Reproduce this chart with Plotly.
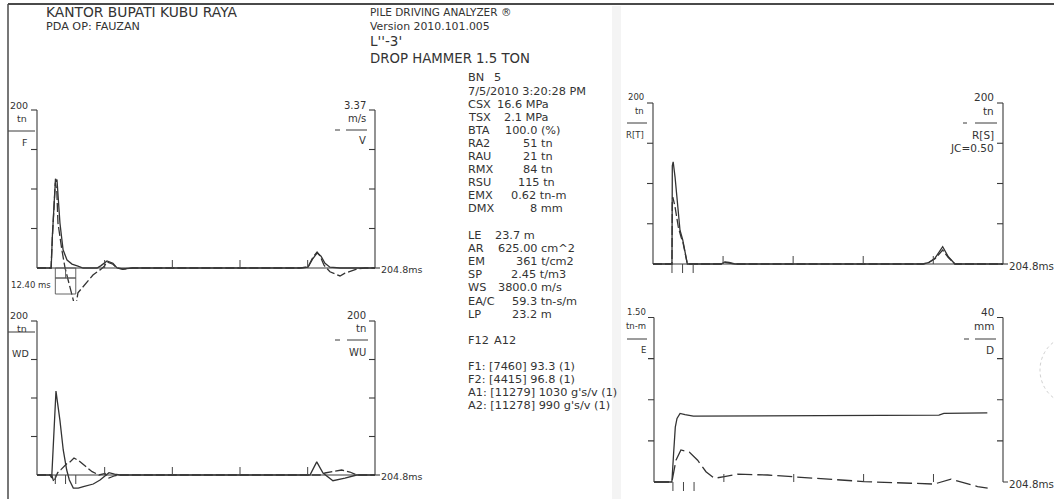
import plotly.graph_objects as go

W, H = 1054, 499

# ---------------- data ----------------
TIME_MAX = 204.8                      # ms, record length
GRID_T = [41.0, 82.0, 123.0, 164.0]   # ms, baseline grid marks
IMPACT_T = [11.1, 17.3, 23.5]         # ms, impact / L/c / 2L/c marks

# Panel 1 : force F (tn) and velocity V (m/s)
F_t = [0, 8.6, 9.3, 10.5, 11.2, 11.6, 12.1, 13.9, 15.8, 18.2, 21.2, 24.8, 27.9, 36.4, 38.8,
       42.4, 46.0, 48.5, 52.0, 58.0, 159.4, 164.2, 167.2, 169.7, 172.1, 174.5, 177.5, 183.6, 204.8]
F_v = [0, 0, 40, 95, 113, 109, 112, 57, 23, 10, 5, 2.5, 0, 0, 3,
       9, 6, 0, -1, 0, 0, 1, 12, 19, 15, 6, 1, 0, 0]
V_t = [0, 8.5, 9.3, 10.5, 11.1, 12.0, 12.7, 15.1, 17.0, 21.8, 23.3, 24.8, 29.1, 33.9, 38.2,
       40.6, 42.4, 46.0, 48.5, 52.0, 58.0, 159.4, 164.2, 167.2, 169.7, 171.5, 173.9, 177.5,
       183.6, 186.6, 193.9, 198.7, 204.8]
V_v = [0, 0, 0.64, 1.55, 1.82, 1.65, 0.96, 0.38, 0, -0.66, -0.88, -0.53, -0.34, -0.15, -0.04,
       0.03, 0.13, 0.08, 0, -0.03, 0, 0, 0.02, 0.23, 0.34, 0.26, 0.06, -0.08,
       -0.17, -0.11, -0.02, 0, 0]

# Panel 2 : wave down WD and wave up WU (tn)
WD_t = [0, 7.9, 8.9, 10.3, 11.5, 13.9, 15.9, 18.0, 19.6, 22.0, 25.0, 28.1, 34.1, 38.2, 41.2,
        43.6, 47.0, 50.3, 165.4, 169.5, 173.3, 179.3, 186.6, 193.7, 204.8]
WD_v = [0, 0, -3.9, 55, 109, 71, 32.5, 6.5, -6.5, -17, -17, -15, -11.7, -6.5, -1.3,
        3, 1, 0, 0, 17, 2.6, -7.4, -4, 0, 0]
WU_t = [0, 8.9, 10.2, 11.6, 12.5, 14.5, 16.4, 18.2, 20.0, 22.4, 25.5, 28.5, 33.4, 37.6, 41.2,
        43.6, 47.0, 50.0, 171.5, 174.5, 184.6, 189.6, 193.7, 204.8]
WU_v = [0, 0, -9, -3, 3, 7, 11.7, 15, 17, 22, 18.2, 13, 4.3, 0, 2,
        -4, -1, 0, 0, 2.6, 6.5, 3.9, 0, 0]

# Panel 3 : total resistance R[T] and static resistance R[S] (tn)
RT_t = [0, 11.1, 11.3, 11.8, 12.9, 13.9, 14.8, 15.8, 17.4, 20.1, 39.8, 42.1, 44.5, 47.9,
        158.0, 161.1, 165.0, 169.5, 172.8, 176.7, 204.8]
RT_v = [0, 0, 122, 127, 108, 84, 63, 42, 30, 0, 0, 2.5, 2, 0,
        0, 1.6, 7.2, 21.5, 9, 0, 0]
RS_t = [0, 11.1, 11.3, 11.6, 12.9, 14.8, 16.5, 17.4, 20.1, 39.8, 42.1, 44.5, 47.9,
        158.0, 161.1, 165.0, 169.5, 172.8, 176.7, 204.8]
RS_v = [0, 0, 80, 83, 71, 46, 33, 28, 0, 0, 2, 1.5, 0,
        0, 1.5, 6.5, 17.4, 8, 0, 0]

# Panel 4 : energy E (tn-m) and displacement D (mm)
E_t = [0, 10.5, 11.5, 12.5, 13.5, 15.3, 18.2, 23.1, 167.2, 170.1, 195.6]
E_v = [0, 0, 0.26, 0.50, 0.58, 0.625, 0.615, 0.60, 0.61, 0.625, 0.63]
D_t = [0, 10.5, 12.9, 15.8, 20.7, 25.6, 30.5, 35.4, 41.3, 49.1, 66.7, 82.3, 111.6, 123.3,
       150.8, 164.4, 174.3, 180.1, 189.9, 195.8]
D_v = [0, 0, 5.3, 7.8, 7.3, 5.3, 2.5, 0.9, 1.3, 1.9, 1.7, 1.3, 0.5, 0.1,
       -0.3, -0.5, 0.7, 0.1, -1.1, -1.5]

# scales (full-scale values of each axis)
P_SCALES = [(200, 3.37), (200, 200), (200, 200), (1.50, 40)]

# summary table
TABLE1 = [("BN", "5"), ("CSX", "16.6 MPa"), ("TSX", "2.1 MPa"), ("BTA", "100.0 (%)"),
          ("RA2", "51 tn"), ("RAU", "21 tn"), ("RMX", "84 tn"), ("RSU", "115 tn"),
          ("EMX", "0.62 tn-m"), ("DMX", "8 mm")]
DATE_TXT = "7/5/2010 3:20:28 PM"
TABLE2 = [("LE", "23.7 m"), ("AR", "625.00 cm^2"), ("EM", "361 t/cm2"), ("SP", "2.45 t/m3"),
          ("WS", "3800.0 m/s"), ("EA/C", "59.3 tn-s/m"), ("LP", "23.2 m")]
SENSORS = ["F1: [7460] 93.3 (1)", "F2: [4415] 96.8 (1)",
           "A1: [11279] 1030 g's/v (1)", "A2: [11278] 990 g's/v (1)"]

# ---------------- layout helpers ----------------
INK = "#333333"
FONT = "DejaVu Sans"

# panel pixel geometry: x_left, x_right, y_top(full scale), y_base(zero), y_bottom(clip)
GEOM = [(37, 375, 110, 268, 301),
        (37, 375, 321, 475, 495),
        (653, 1003, 103, 264, 282),
        (654, 1003, 317.5, 482, 495)]
PAD = 14

fig = go.Figure()
layout = dict(width=W, height=H, margin=dict(l=0, r=0, t=0, b=0),
              paper_bgcolor="white", plot_bgcolor="rgba(0,0,0,0)", showlegend=False)
shapes = []
anns = []


def px(x):
    return x / W


def py(y):
    return 1 - y / H


for i, (x0, x1, yt, yb, ybot) in enumerate(GEOM):
    n = i + 1
    kx = TIME_MAX / (x1 - x0)
    lmax, rmax = P_SCALES[i]
    kyl = lmax / (yb - yt)
    kyr = rmax / (yb - yt)
    xd = [px(x0 - PAD), px(x1 + PAD)]
    yd = [py(ybot), py(yt - 6)]
    xs = "" if n == 1 else str(n)
    layout["xaxis" + xs] = dict(domain=xd, range=[-PAD * kx, TIME_MAX + PAD * kx],
                                visible=False, anchor="y" + xs, fixedrange=True)
    layout["yaxis" + xs] = dict(domain=yd, range=[-(ybot - yb) * kyl, lmax + 6 * kyl],
                                visible=False, anchor="x" + xs, fixedrange=True)
    layout["yaxis" + str(n + 4)] = dict(range=[-(ybot - yb) * kyr, rmax + 6 * kyr],
                                        visible=False, overlaying="y" + xs, anchor="x" + xs,
                                        fixedrange=True)

# traces
series = [
    (F_t, F_v, 1, False, None), (V_t, V_v, 1, True, "9px,3px"),
    (WD_t, WD_v, 2, False, None), (WU_t, WU_v, 2, True, "9px,3px"),
    (RT_t, RT_v, 3, False, None), (RS_t, RS_v, 3, True, "9px,3px"),
    (E_t, E_v, 4, False, None), (D_t, D_v, 4, True, "15px,5px"),
]
for t, v, n, right, dash in series:
    xs = "" if n == 1 else str(n)
    ya = "y" + (str(n + 4) if right else xs)
    fig.add_trace(go.Scatter(x=t, y=v, xaxis="x" + xs, yaxis=ya, mode="lines",
                             line=dict(color=INK, width=1.3, dash=dash),
                             hoverinfo="skip"))

# axes frames & ticks (data referenced)
for i, (x0, x1, yt, yb, ybot) in enumerate(GEOM):
    n = i + 1
    xs = "" if n == 1 else str(n)
    xa, ya = "x" + xs, "y" + xs
    lmax = P_SCALES[i][0]
    ln = dict(color="#3a3a3a", width=1.1)
    shapes.append(dict(type="line", xref=xa, yref=ya, x0=0, x1=0, y0=0, y1=lmax, line=ln))
    shapes.append(dict(type="line", xref=xa, yref=ya, x0=TIME_MAX, x1=TIME_MAX, y0=0, y1=lmax,
                       line=ln))
    if n != 4:
        shapes.append(dict(type="line", xref=xa, yref=ya, x0=0, x1=TIME_MAX, y0=0, y1=0, line=ln))
    for k in range(1, 5):
        v = lmax * k / 4
        shapes.append(dict(type="line", xref=xa, yref=ya, xsizemode="pixel", xanchor=0,
                           x0=-6, x1=0, y0=v, y1=v, line=ln))
        shapes.append(dict(type="line", xref=xa, yref=ya, xsizemode="pixel", xanchor=TIME_MAX,
                           x0=-6, x1=0, y0=v, y1=v, line=ln))
    shapes.append(dict(type="line", xref=xa, yref=ya, xsizemode="pixel", xanchor=TIME_MAX,
                       x0=0, x1=5, y0=0, y1=0, line=ln))
    for t in GRID_T:
        shapes.append(dict(type="line", xref=xa, yref=ya, ysizemode="pixel", yanchor=0,
                           x0=t, x1=t, y0=0, y1=8, line=dict(color="#444", width=1)))
    if n != 1:
        for t in IMPACT_T:
            shapes.append(dict(type="line", xref=xa, yref=ya, ysizemode="pixel", yanchor=0,
                               x0=t, x1=t, y0=0, y1=-9, line=dict(color="#444", width=1)))
    # 204.8ms label
    fs = 9.5 if n <= 2 else 10.3
    anns.append(dict(text="204.8ms", xref=xa, yref=ya, x=TIME_MAX, y=0, xanchor="left",
                     yanchor="top", xshift=4, yshift=6, showarrow=False,
                     font=dict(size=fs, color=INK, family=FONT)))

# 12.40 ms window box on panel 1
shapes.append(dict(type="rect", xref="x", yref="y", x0=IMPACT_T[0], x1=IMPACT_T[2],
                   ysizemode="pixel", yanchor=0, y0=0, y1=-10,
                   line=dict(color="#555", width=0.9)))
shapes.append(dict(type="line", xref="x", yref="y", x0=IMPACT_T[1], x1=IMPACT_T[1],
                   ysizemode="pixel", yanchor=0, y0=0, y1=-10, line=dict(color="#555", width=0.9)))
shapes.append(dict(type="rect", xref="x", yref="y", x0=IMPACT_T[0], x1=IMPACT_T[2],
                   ysizemode="pixel", yanchor=0, y0=-10, y1=-26,
                   line=dict(color="#555", width=0.9)))
anns.append(dict(text="%.2f ms" % (IMPACT_T[2] - IMPACT_T[0]), xref="x", yref="y",
                 x=IMPACT_T[0], y=0, xanchor="right", yanchor="middle", xshift=-2, yshift=-17,
                 showarrow=False, font=dict(size=8.5, color=INK, family=FONT)))


def txt(s, x, y, size, anchor="left", color=INK):
    anns.append(dict(text=s, xref="paper", yref="paper", x=px(x), y=py(y), xanchor=anchor,
                     yanchor="middle", showarrow=False,
                     font=dict(size=size, color=color, family=FONT)))


def hline(x0, x1, y, w=1):
    shapes.append(dict(type="line", xref="paper", yref="paper", x0=px(x0), x1=px(x1),
                       y0=py(y), y1=py(y), line=dict(color="#3a3a3a", width=w)))


# panel side labels
# panel 1
txt("200", 30, 105, 9.5, "right"); txt("tn", 29, 118, 9.5, "right"); hline(8, 35, 131)
txt("F", 29, 142, 9.5, "right")
txt("3.37", 368, 105, 10, "right"); txt("m/s", 368, 118, 10, "right")
hline(335, 340, 130); hline(346, 367, 130); txt("V", 368, 141, 10, "right")
# panel 2
txt("200", 30, 315, 9.5, "right"); txt("tn", 29, 328, 9.5, "right"); hline(8, 35, 332)
txt("WD", 31, 353, 9.5, "right")
txt("200", 368, 315, 10, "right"); txt("tn", 368, 328, 10, "right")
hline(335, 340, 340); hline(347, 368, 340); txt("WU", 368, 352, 10, "right")
# panel 3
txt("200", 646, 97, 8.5, "right"); txt("tn", 646, 111, 8.5, "right"); hline(627, 647, 123)
txt("R[T]", 646, 135, 8.5, "right")
txt("200", 996, 97, 10.5, "right"); txt("tn", 996, 111, 10.5, "right")
hline(963, 967, 123); hline(975, 997, 123)
txt("R[S]", 996, 135, 10.5, "right"); txt("JC=0.50", 996, 148, 10.5, "right")
# panel 4
txt("1.50", 648, 312, 8.5, "right"); txt("tn-m", 648, 326, 8.5, "right"); hline(627, 647, 339)
txt("E", 648, 350, 8.5, "right")
txt("40", 996, 312, 10.5, "right"); txt("mm", 996, 326, 10.5, "right")
hline(964, 969, 339); hline(975, 996, 339); txt("D", 996, 350, 10.5, "right")

# header
txt("KANTOR BUPATI KUBU RAYA", 44, 12.5, 13.8)
txt("PDA OP: FAUZAN", 44, 26.5, 11.2)
txt("PILE DRIVING ANALYZER ®", 368, 12, 10.5)
txt("Version 2010.101.005", 368, 26, 10.9)
txt("L''-3'", 368, 40.5, 13.5)
txt("DROP HAMMER 1.5 TON", 368, 58.5, 13.3)

# summary values
FS = 11.3
VAL_X1 = [492, 495, 502, 503, 521, 521, 521, 516, 509, 528]
ys = [78 + 13.05 * k for k in range(11)]
txt(TABLE1[0][0], 466, ys[0], FS); txt(TABLE1[0][1], VAL_X1[0], ys[0], FS)
txt(DATE_TXT, 466, ys[1], FS)
for k in range(1, len(TABLE1)):
    txt(TABLE1[k][0], 466, ys[k + 1], FS)
    txt(TABLE1[k][1], VAL_X1[k], ys[k + 1], FS)
VAL_X2 = [493, 496, 514, 509, 496, 510, 510]
for k, (a, b) in enumerate(TABLE2):
    yy = 235.5 + 13.1 * k
    txt(a, 466, yy, FS); txt(b, VAL_X2[k], yy, FS)
txt("F12", 466, 340, FS); txt("A12", 492, 340, FS)
for k, s in enumerate(SENSORS):
    txt(s, 466, 366 + 13.1 * k, FS)

# page frame / scan decorations
shapes.append(dict(type="line", xref="paper", yref="paper", x0=px(8), x1=1, y0=py(4), y1=py(4),
                   line=dict(color="#4a4a4a", width=2)))
shapes.append(dict(type="line", xref="paper", yref="paper", x0=px(8), x1=px(8), y0=py(4), y1=0,
                   line=dict(color="#4a4a4a", width=1.5)))
shapes.append(dict(type="rect", xref="paper", yref="paper", x0=px(612), x1=px(621), y0=0,
                   y1=py(6), fillcolor="#f4f4f4", line=dict(width=0), layer="below"))
shapes.append(dict(type="circle", xref="paper", yref="paper", x0=px(1040), x1=px(1104),
                   y0=py(404), y1=py(336), line=dict(color="#d0d0d0", width=1, dash="dot")))

layout["shapes"] = shapes
layout["annotations"] = anns
fig.update_layout(**layout)
fig.write_html("out.html", config={"displayModeBar": False, "staticPlot": True},
               post_script="document.body.style.margin='0';document.body.style.overflow='hidden';")
